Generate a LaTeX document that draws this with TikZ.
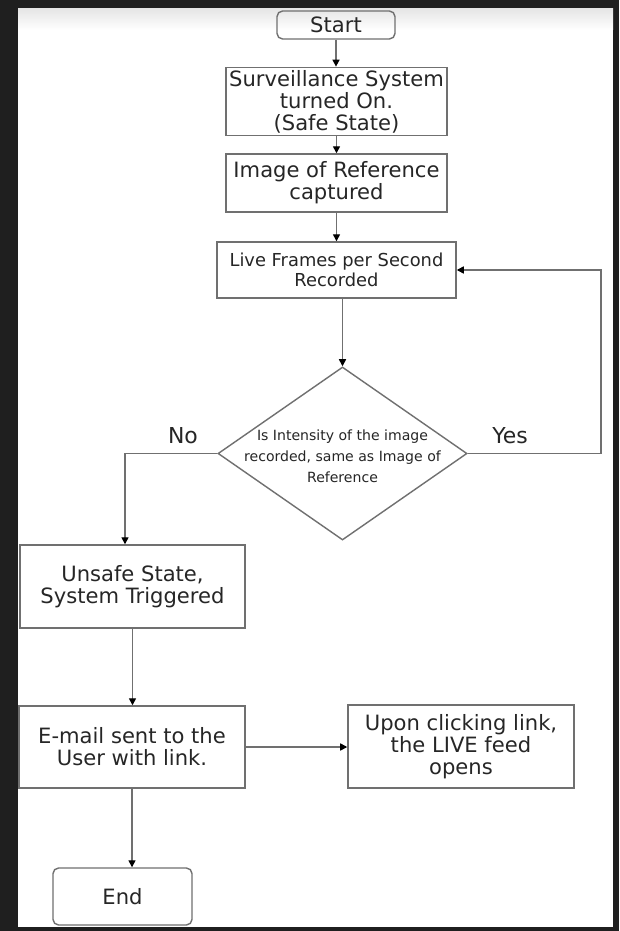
\documentclass[tikz,border=0pt]{standalone}
\usepackage{fontspec}
\setmainfont{DejaVu Sans}
\usepackage{xcolor}
\usetikzlibrary{arrows.meta,positioning,shapes.geometric}
\definecolor{edge}{HTML}{707070}
\definecolor{ink}{HTML}{262626}
\tikzset{
  blk/.style   ={draw=edge,line width=1pt,align=center,inner sep=2pt,text=ink,
                 font=\fontsize{15}{15.6}\selectfont},
  term/.style  ={blk,rounded corners=4pt},
  proc/.style  ={blk},
  cond/.style  ={draw=edge,line width=1pt,diamond,inner sep=0pt},
  flow/.style  ={-{Triangle[length=5pt,width=5pt,color=black]},draw=edge,line width=1pt},
  lbl/.style   ={text=ink,font=\fontsize{15.6}{15.6}\selectfont},
}

\begin{document}
\begin{tikzpicture}[x=0.025cm,y=-0.025cm]
  % frame
  \fill[black!88] (0,0) rectangle (619,931);
  \fill[white] (18,9) rectangle (613,927);
  \shade[top color=black!10,bottom color=white] (18,9) rectangle (613,30);

  \node[term,minimum width=2.95cm,minimum height=0.7cm] (start) at (336,25) {Start};
  \node[proc,minimum width=5.525cm,minimum height=1.675cm] (surv) at (336.5,101.5)
       {Surveillance System\\turned On.\\(Safe State)};
  \node[proc,minimum width=5.525cm,minimum height=1.45cm] (refimg) at (336.5,183)
       {Image of Reference\\captured};
  \node[proc,minimum width=5.975cm,minimum height=1.4cm,
        font=\fontsize{12.7}{14.2}\selectfont] (live) at (336.5,270)
       {Live Frames per Second\\Recorded};
  \node[cond,minimum width=6.225cm,minimum height=4.325cm] (dec) at (342.5,453.5) {};
  \node[text=ink,align=center,font=\fontsize{10}{14.7}\selectfont,yshift=-2pt] (dectxt) at (dec)
       {Is Intensity of the image\\recorded, same as Image of\\Reference};
  \node[proc,minimum width=5.625cm,minimum height=2.075cm] (unsafe) at (132.5,586.5)
       {Unsafe State,\\System Triggered};
  \node[proc,minimum width=5.65cm,minimum height=2.05cm] (email) at (132,747)
       {E-mail sent to the\\User with link.};
  \node[proc,minimum width=5.65cm,minimum height=2.075cm] (upon) at (461,746.5)
       {Upon clicking link,\\the LIVE feed\\opens};
  \node[term,minimum width=3.475cm,minimum height=1.425cm] (end) at (122.5,896.5) {End};

  \node[lbl] (no) at (183,436) {No};
  \node[lbl] (yes) at (510,436) {Yes};
  \coordinate (nobend) at (125,453.5);
  \coordinate (loop) at (601,453.5);

  \draw[flow] (start.south) -- (start.south |- surv.north);
  \draw[flow] (surv.south) -- (surv.south |- refimg.north);
  \draw[flow] (refimg.south) -- (refimg.south |- live.north);
  \draw[flow] (dec.north |- live.south) -- (dec.north);
  \draw[flow] (dec.east) -- (loop) |- (live.east);
  \draw[flow] (dec.west) -- (nobend) -- (nobend |- unsafe.north);
  \draw[flow] (unsafe.south) -- (unsafe.south |- email.north);
  \draw[flow] (email.east) -- (email.east -| upon.west);
  \draw[flow] (email.south) -- (email.south |- end.north);
\end{tikzpicture}
\end{document}
